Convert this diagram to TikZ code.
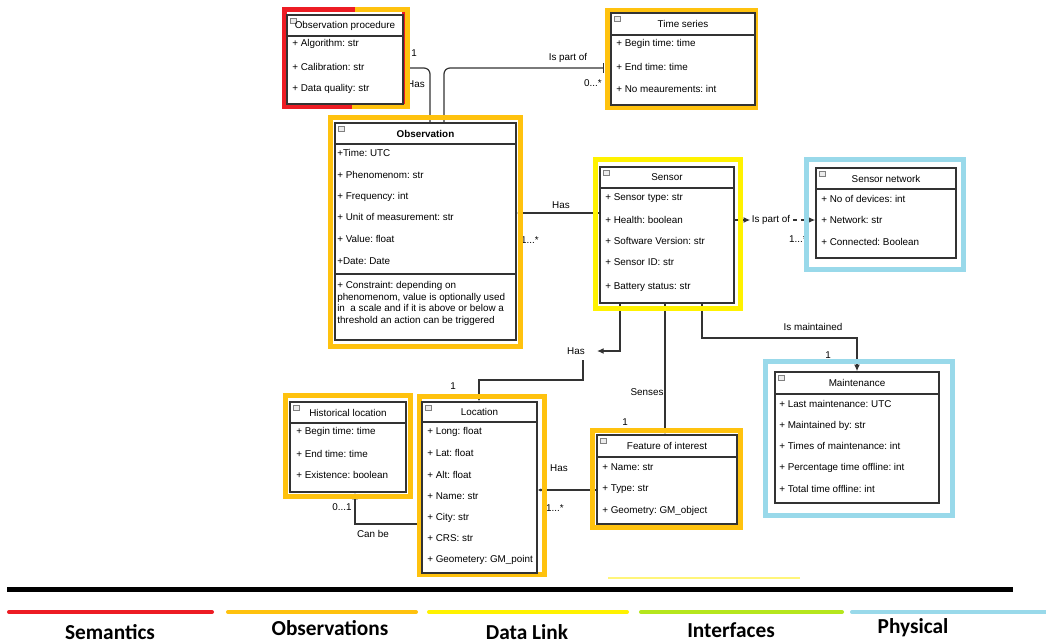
\documentclass[tikz,border=0pt]{standalone}
\usepackage{fontspec}
\setmainfont{Liberation Sans}
\newfontfamily\legendfont{Carlito}
\usetikzlibrary{arrows.meta,fit,calc}
\pgfdeclarelayer{bg}
\pgfdeclarelayer{links}
\pgfdeclarelayer{frames}
\pgfsetlayers{bg,links,frames,main}
\frenchspacing

\definecolor{semred}{HTML}{ED1C24}
\definecolor{obsorange}{HTML}{FFC20E}
\definecolor{linkyellow}{HTML}{FFF200}
\definecolor{paleyellow}{HTML}{FFF57A}
\definecolor{ifgreen}{HTML}{B5E61D}
\definecolor{physblue}{HTML}{99D9EA}
\definecolor{boxline}{HTML}{333333}

\tikzset{
  umlbox/.style={draw=boxline, line width=1.2pt, fill=white, inner sep=0pt},
  hdrline/.style={draw=boxline, line width=1.2pt},
  icon/.style={draw=gray, fill=gray!15, line width=0.4pt},
  frame/.style={line width=3.75pt},
  attr/.style={anchor=west, inner sep=0pt, font=\fontsize{7.4}{8.8}\selectfont},
  ctitle/.style={inner sep=0pt, font=\fontsize{7.4}{8.8}\selectfont},
  lbl/.style={inner sep=0pt, font=\fontsize{7.4}{8.8}\selectfont},
  conn/.style={draw=boxline, line width=0.9pt},
  tip/.style={-{Latex[length=5pt,width=4.5pt]}},
  smalltip/.style={-{Latex[length=2.5pt,width=2.5pt]}},
  legline/.style={line width=3pt, line cap=round},
  legtext/.style={inner sep=0pt, font=\legendfont\bfseries\fontsize{16}{18}\selectfont},
}

% class box: name, x1, y1, x2, y2, header bottom, title
\newcommand\umlclass[7]{%
  \node[umlbox, fit={(#2,#3)(#4,#5)}] (#1) {};
  \draw[hdrline] (#1.west |- 0,#6) -- (#1.east |- 0,#6);
  \draw[icon] ($(#1.north west)+(4,4)$) rectangle ++(6,5);
  \node[ctitle] at ({(#2+#4)/2},{(#3+#6)/2}) {#7};
}

\begin{document}
\begin{tikzpicture}[x=0.75pt,y=-0.75pt]
\useasboundingbox (0,0) rectangle (1046,643);
\begin{pgfonlayer}{bg}
  \fill[white] (0,0) rectangle (1046,643);
\end{pgfonlayer}

% ---------- classes ----------
\umlclass{op}{287}{15}{403}{104}{36}{Observation procedure}
\foreach \y/\t in {44/{+ Algorithm: str}, 67/{+ Calibration: str}, 89/{+ Data quality: str}}
  \node[attr] at (292,\y) {\t};

\umlclass{ts}{611}{13}{755}{105}{35}{Time series}
\foreach \y/\t in {44/{+ Begin time: time}, 67/{+ End time: time}, 89/{+ No meaurements: int}}
  \node[attr] at (616,\y) {\t};

\umlclass{obs}{335}{123}{516}{340}{144}{\textbf{Observation}}
\foreach \y/\t in {153/{+Time: UTC}, 175/{+ Phenomenom: str}, 197/{+ Frequency: int},
                   217/{+ Unit of measurement: str}, 239/{+ Value: float}, 261/{+Date: Date}}
  \node[attr] at (337,\y) {\t};
\draw[hdrline] (obs.west |- 0,274) -- (obs.east |- 0,274);
\node[attr, anchor=north west, align=left] at (337,281)
  {+ Constraint: depending on\\ phenomenom, value is optionally used\\ in\ \ a scale and if it is above or below a\\ threshold an action can be triggered};

\umlclass{sensor}{600}{167}{734}{303}{188}{Sensor}
\foreach \y/\t in {198/{+ Sensor type: str}, 220/{+ Health: boolean}, 241/{+ Software Version: str},
                   262/{+ Sensor ID: str}, 287/{+ Battery status: str}}
  \node[attr] at (605,\y) {\t};

\umlclass{snet}{816}{168}{956}{258}{189}{Sensor network}
\foreach \y/\t in {199/{+ No of devices: int}, 220/{+ Network: str}, 242/{+ Connected: Boolean}}
  \node[attr] at (821,\y) {\t};

\umlclass{maint}{775}{372}{939}{503}{394}{Maintenance}
\foreach \y/\t in {404/{+ Last maintenance: UTC}, 426/{+ Maintained by: str}, 446/{+ Times of maintenance: int},
                   468/{+ Percentage time offline: int}, 489/{+ Total time offline: int}}
  \node[attr] at (779,\y) {\t};

\umlclass{foi}{597}{435}{737}{524}{457}{Feature of interest}
\foreach \y/\t in {467/{+ Name: str}, 489/{+ Type: str}, 511/{+ Geometry: GM\_object}}
  \node[attr] at (602,\y) {\t};

\umlclass{hist}{290}{402}{406}{492}{423}{Historical location}
\foreach \y/\t in {432/{+ Begin time: time}, 454/{+ End time: time}, 475/{+ Existence: boolean}}
  \node[attr] at (296,\y) {\t};

\umlclass{loc}{422}{402}{537}{573}{422}{Location}
\foreach \y/\t in {432/{+ Long: float}, 453/{+ Lat: float}, 475/{+ Alt: float}, 496/{+ Name: str},
                   518/{+ City: str}, 538/{+ CRS: str}, 560/{+ Geometery: GM\_point}}
  \node[attr] at (427,\y) {\t};

% ---------- layer frames ----------
\begin{pgfonlayer}{frames}
  \draw[frame, semred] (284.5,9.5) rectangle (404,106.5);
  \draw[frame, obsorange] (355,9.5) -- (407.5,9.5) -- (407.5,106.5) -- (352,106.5);
  \draw[frame, obsorange] (607.5,10.5) rectangle (755.5,107.5);
  \draw[frame, obsorange] (330.5,117.5) rectangle (520.5,346.5);
  \draw[frame, linkyellow] (595.5,159.5) rectangle (740.5,308.5);
  \draw[frame, physblue] (806.5,159.5) rectangle (963.5,269.5);
  \draw[frame, physblue] (765.5,361.5) rectangle (952.5,515.5);
  \draw[frame, obsorange] (592.5,430.5) rectangle (740.5,527.5);
  \draw[frame, obsorange] (285.5,395.5) rectangle (410.5,496.5);
  \draw[frame, obsorange] (419.5,396.5) rectangle (544.5,574.5);
\end{pgfonlayer}

% ---------- associations ----------
\begin{pgfonlayer}{links}
  % procedure -- observation
  \draw[conn, rounded corners=4.5pt] (obs.north -| 430,0) |- (op.east |- 0,68);
  \node[lbl] at (414,53) {1};
  \node[lbl] at (416,84) {Has};

  % observation -- time series
  \draw[conn, rounded corners=4.5pt, -{Bar[width=7pt]}, shorten >=4.5pt]
    (obs.north -| 444,0) |- (ts.west |- 0,68);
  \node[lbl] at (568,58) {Is part of};
  \node[lbl] at (593,83) {0...*};

  % sensor -- observation
  \draw[conn, smalltip] (sensor.west |- 0,213) -- (obs.east |- 0,213);
  \node[lbl] at (561,205) {Has};
  \node[lbl] at (530,240) {1...*};

  % sensor -- sensor network
  \node[lbl] (partof) at (771,220) {Is part of};
  \draw[conn, dashed, tip] (sensor.east |- 0,220) -- ([xshift=-1pt]partof.west);
  \draw[conn, dashed, tip] ([xshift=2pt]partof.east) -- (snet.west |- 0,220);
  \node[lbl] at (798,239) {1...*};

  % sensor -- location
  \node[lbl] (hasloc) at (576,351) {Has};
  \draw[conn, tip] (sensor.south -| 620,0) |- ([xshift=9pt]hasloc.east);
  \draw[conn, smalltip] ([yshift=-4pt]hasloc.south -| 583,0) -- (583,380) -| (loc.north -| 479,0);
  \node[lbl] at (453,386) {1};

  % sensor -- feature of interest
  \draw[conn, smalltip] (sensor.south -| 665,0) -- (foi.north -| 665,0);
  \node[lbl] at (647,392) {Senses};
  \node[lbl] at (625,422) {1};

  % sensor -- maintenance
  \draw[conn, tip] (sensor.south -| 702,0) -- (702,338) -| (maint.north -| 857,0);
  \node[lbl] at (813,327) {Is maintained};
  \node[lbl] at (828,355) {1};

  % feature of interest -- location
  \draw[conn, smalltip] (foi.west |- 0,490) -- (loc.east |- 0,490);
  \node[lbl] at (559,468) {Has};
  \node[lbl] at (555,508) {1...*};

  % location -- historical location
  \draw[conn, tip] (loc.west |- 0,524) -| (hist.south -| 355,0);
  \node[lbl] at (373,534) {Can be};
  \node[lbl] at (342,507) {0...1};
\end{pgfonlayer}

% ---------- legend ----------
\draw[paleyellow, line width=1.5pt] (608,578) -- (800,578);
\draw[black, line width=3.75pt] (7,589) -- (1013,589);
\draw[legline, semred]     (9,612)   -- (212,612);
\draw[legline, obsorange]  (228,612) -- (416,612);
\draw[legline, linkyellow] (429,612) -- (627,612);
\draw[legline, ifgreen]    (641,612) -- (842,612);
\draw[legline, physblue]   (852,612) -- (1046,612);
\node[legtext] at (110,632) {Semantics};
\node[legtext] at (330,628) {Observations};
\node[legtext] at (527,632) {Data Link};
\node[legtext] at (731,630) {Interfaces};
\node[legtext] at (913,628) {Physical};
\end{tikzpicture}
\end{document}
